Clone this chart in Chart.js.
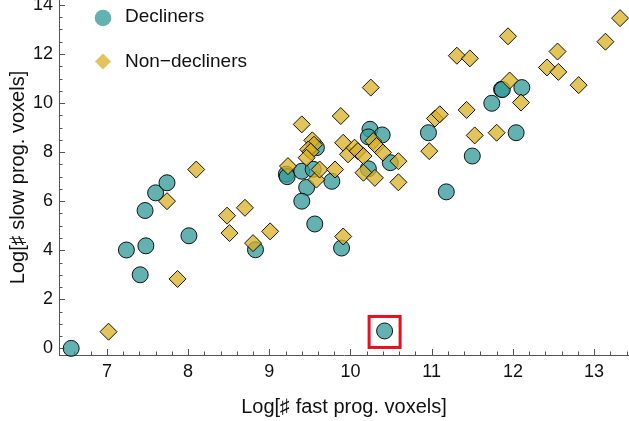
<!DOCTYPE html>
<html>
<head>
<meta charset="utf-8">
<script src="https://cdn.jsdelivr.net/npm/chart.js@4.4.0/dist/chart.umd.min.js"></script>
<style>
  body { margin: 0; background: #fff; }
  #wrap { width: 629px; height: 421px; }
</style>
</head>
<body>
<div id="wrap"><canvas id="grafico" width="629" height="421"></canvas></div>
<script>
// Log of fast vs slow progression voxel counts, one point per subject
const declinersX = [6.56, 7.24, 7.41, 7.48, 7.47, 7.60, 7.74, 8.01, 8.83, 9.21, 9.22, 9.40, 9.46, 9.40, 9.56, 9.58,
  9.54, 9.77, 9.89, 10.24, 10.39, 10.22, 10.49, 10.22, 10.42, 10.96, 11.50, 11.18, 11.74, 11.86, 11.87, 12.11, 12.04];
const declinersY = [0.00, 4.01, 3.00, 4.18, 5.62, 6.34, 6.75, 4.59, 4.02, 7.10, 7.00, 7.22, 6.56, 6.00, 5.07, 8.18,
  7.30, 6.81, 4.09, 8.93, 8.70, 8.62, 7.57, 7.32, 0.71, 8.79, 7.84, 6.38, 9.99, 10.56, 10.55, 10.63, 8.79];

const nonDeclinersX = [7.02, 7.87, 7.74, 8.10, 8.48, 8.51, 8.70, 8.80, 9.01, 9.23, 9.40, 9.53, 9.55, 9.48, 9.51,
  9.46, 9.58, 9.62, 9.81, 9.91, 9.88, 9.91, 9.97, 10.05, 10.09, 10.16, 10.28, 10.32, 10.40, 10.59, 10.16, 10.30,
  10.59, 10.25, 10.97, 11.04, 11.10, 11.43, 11.31, 11.47, 11.94, 11.96, 12.10, 11.53, 11.80, 12.55, 12.42, 12.56,
  12.81, 13.14, 13.32];
const nonDeclinersY = [0.68, 2.83, 6.00, 7.29, 5.41, 4.70, 5.73, 4.29, 4.77, 7.43, 9.13, 8.48, 8.30, 8.11, 8.02,
  7.77, 6.88, 7.29, 7.29, 4.56, 9.47, 8.38, 7.91, 8.18, 8.04, 7.84, 8.45, 8.25, 7.98, 7.63, 7.16, 6.95,
  6.77, 10.63, 8.04, 9.37, 9.54, 9.72, 11.93, 11.82, 12.72, 10.92, 10.02, 8.68, 8.79, 12.10, 11.45, 11.27,
  10.73, 12.50, 13.46];

const xTicks = [7, 8, 9, 10, 11, 12, 13];
const yTicks = [0, 2, 4, 6, 8, 10, 12, 14];
const seriesNames = ['Decliners', 'Non\u2212decliners'];
const xTitle = 'Log[\u266F fast prog. voxels]';
const yTitle = 'Log[\u266F slow prog. voxels]';

// the decliner sitting far below the trend gets a red frame
const outlierIdx = declinersY.findIndex(v => v < 1 && v > 0);

const tealFill = 'rgba(50, 154, 152, 0.76)';
const goldFill = 'rgba(217, 178, 39, 0.76)';
const edge = 'rgba(0, 0, 0, 0.9)';
const axisColor = '#555';
const fontFamily = "'Liberation Sans', Arial, sans-serif";

function toPoints(xs, ys) {
  return xs.map((x, i) => ({ x: x, y: ys[i] }));
}

// minor and major ticks pointing into the plot
const tickMarks = {
  id: 'tickMarks',
  beforeDatasetsDraw(chart) {
    const { ctx, chartArea, scales: { x, y } } = chart;
    ctx.save();
    ctx.strokeStyle = axisColor;
    ctx.lineWidth = 1;
    ctx.beginPath();
    for (let k = Math.ceil(x.min * 5); k <= Math.floor(x.max * 5); k++) {
      const px = Math.round(x.getPixelForValue(k / 5)) + 0.5;
      const len = k % 5 === 0 ? 6 : 3.5;
      ctx.moveTo(px, chartArea.bottom);
      ctx.lineTo(px, chartArea.bottom - len);
    }
    for (let k = Math.ceil(y.min * 2); k <= Math.floor(y.max * 2); k++) {
      const py = Math.round(y.getPixelForValue(k / 2)) + 0.5;
      const len = k % 4 === 0 ? 6 : 3.5;
      ctx.moveTo(chartArea.left, py);
      ctx.lineTo(chartArea.left + len, py);
    }
    ctx.stroke();
    ctx.restore();
  }
};

// legend drawn inside the plot, top left
const insideLegend = {
  id: 'insideLegend',
  afterDatasetsDraw(chart) {
    const { ctx, chartArea } = chart;
    const mx = chartArea.left + 44;
    const tx = chartArea.left + 66;
    ctx.save();

    ctx.fillStyle = tealFill;
    ctx.beginPath();
    ctx.arc(mx, chartArea.top + 18, 8.3, 0, Math.PI * 2);
    ctx.fill();

    ctx.fillStyle = goldFill;
    ctx.beginPath();
    const dy = chartArea.top + 61.5, r = 8;
    ctx.moveTo(mx - r, dy);
    ctx.lineTo(mx, dy - r);
    ctx.lineTo(mx + r, dy);
    ctx.lineTo(mx, dy + r);
    ctx.closePath();
    ctx.fill();

    ctx.fillStyle = '#111';
    ctx.font = '19px ' + fontFamily;
    ctx.textBaseline = 'alphabetic';
    ctx.textAlign = 'left';
    ctx.fillText(seriesNames[0], tx, chartArea.top + 22);
    ctx.fillText(seriesNames[1], tx, chartArea.top + 66.5);
    ctx.restore();
  }
};

// red square around the outlier
const outlierBox = {
  id: 'outlierBox',
  afterDatasetsDraw(chart) {
    const { ctx, scales: { x, y } } = chart;
    const cx = x.getPixelForValue(declinersX[outlierIdx]);
    const cy = y.getPixelForValue(declinersY[outlierIdx]);
    const half = 15.5;
    ctx.save();
    ctx.strokeStyle = '#e8101e';
    ctx.lineWidth = 3;
    ctx.strokeRect(cx - half, cy - half + 1, half * 2, half * 2);
    ctx.restore();
  }
};

new Chart(document.getElementById('grafico'), {
  type: 'scatter',
  data: {
    datasets: [
      {
        label: seriesNames[0],
        data: toPoints(declinersX, declinersY),
        pointStyle: 'circle',
        pointRadius: 8,
        pointHoverRadius: 8,
        backgroundColor: tealFill,
        borderColor: edge,
        borderWidth: 1,
        order: 1,
        clip: false
      },
      {
        label: seriesNames[1],
        data: toPoints(nonDeclinersX, nonDeclinersY),
        pointStyle: 'rectRot',
        pointRadius: 8.5,
        pointHoverRadius: 8.5,
        backgroundColor: goldFill,
        borderColor: edge,
        borderWidth: 1,
        order: 0,
        clip: false
      }
    ]
  },
  options: {
    responsive: false,
    devicePixelRatio: 1,
    animation: false,
    layout: { padding: 0, autoPadding: false },
    plugins: {
      legend: { display: false },
      tooltip: { enabled: false }
    },
    scales: {
      x: {
        type: 'linear',
        min: 6.41,
        max: 13.43,
        afterBuildTicks: s => { s.ticks = xTicks.map(v => ({ value: v })); },
        afterFit: s => { s.height = 66; s.paddingLeft = 0; s.paddingRight = 0; },
        grid: { display: true, drawOnChartArea: false, drawTicks: false },
        border: { display: true, color: axisColor, width: 1 },
        ticks: {
          padding: 6,
          color: '#111',
          font: { family: fontFamily, size: 18 },
          maxRotation: 0
        },
        title: {
          display: true,
          text: xTitle,
          color: '#111',
          font: { family: fontFamily, size: 20 },
          padding: { top: 0, bottom: 2 }
        }
      },
      y: {
        type: 'linear',
        min: -0.27,
        max: 14.2,
        afterBuildTicks: s => { s.ticks = yTicks.map(v => ({ value: v })); },
        afterFit: s => { s.width = 59; s.paddingTop = 0; s.paddingBottom = 0; },
        grid: { display: true, drawOnChartArea: false, drawTicks: false },
        border: { display: true, color: axisColor, width: 1 },
        ticks: {
          padding: 6,
          color: '#111',
          font: { family: fontFamily, size: 18 }
        },
        title: {
          display: true,
          text: yTitle,
          color: '#111',
          font: { family: fontFamily, size: 20 },
          padding: { top: 6, bottom: 0 }
        }
      }
    }
  },
  plugins: [tickMarks, insideLegend, outlierBox]
});
</script>
</body>
</html>
